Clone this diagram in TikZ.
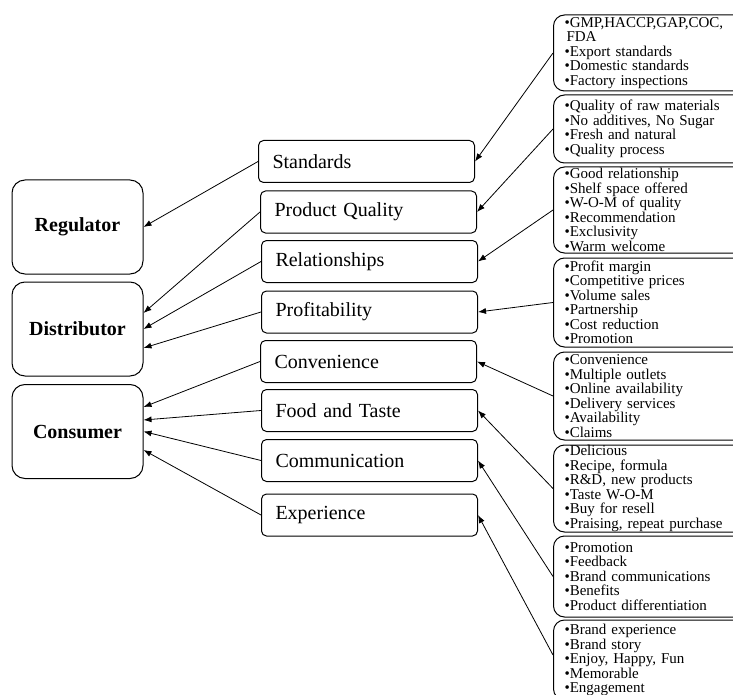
\documentclass[tikz,border=0pt]{standalone}
\usepackage{fontspec}
\setmainfont{Liberation Serif}
\usetikzlibrary{arrows.meta}
\tikzset{
  leftbox/.style={draw,line width=1pt,rounded corners=13pt,minimum width=131pt,minimum height=94pt,
    font=\fontsize{20pt}{24pt}\selectfont\bfseries},
  midbox/.style={draw,line width=1pt,rounded corners=5pt,anchor=west,text width=188pt,inner xsep=14pt,
    align=left,minimum height=42pt,font=\fontsize{20pt}{24pt}\selectfont},
  listbox/.style={draw,line width=1pt,rounded corners=11pt,anchor=west,text width=180pt,inner xsep=11pt,
    inner ysep=0pt,align=left,font=\fontsize{15pt}{14.5pt}\selectfont},
}
\begin{document}
\begin{tikzpicture}[x=1pt,y=-1pt,>={Latex[length=8pt,width=6pt]},line width=0.8pt]
    \useasboundingbox (0,0) rectangle (733,695);
    % left column
    \node[leftbox] (reg) at (77.5,227) {Regulator};
    \node[leftbox] (dist) at (77.5,329) {Distributor};
    \node[leftbox] (cons) at (77.5,431.5) {Consumer};
    % middle column
    \node[midbox] (std) at (258,161.5) {Standards};
    \node[midbox] (pq) at (260,212) {Product Quality};
    \node[midbox] (rel) at (261,261.5) {Relationships};
    \node[midbox] (prof) at (261,312) {Profitability};
    \node[midbox] (conv) at (260,361.5) {Convenience};
    \node[midbox] (food) at (261,410.5) {Food and Taste};
    \node[midbox] (comm) at (261,460.5) {Communication};
    \node[midbox] (exp) at (261,515) {Experience};
    % right column
    \node[listbox,minimum height=76pt] (l1) at (553,53) {•GMP,HACCP,GAP,COC,\\\hspace*{2pt}FDA\\•Export standards\\•Domestic standards\\•Factory inspections};
    \node[listbox,minimum height=68pt] (l2) at (553,129) {•Quality of raw materials\\•No additives, No Sugar\\•Fresh and natural\\•Quality process};
    \node[listbox,minimum height=86pt] (l3) at (553,210) {•Good relationship\\•Shelf space offered\\•W-O-M of quality\\•Recommendation\\•Exclusivity\\•Warm welcome};
    \node[listbox,minimum height=89pt] (l4) at (553,302.5) {•Profit margin\\•Competitive prices\\•Volume sales\\•Partnership\\•Cost reduction\\•Promotion};
    \node[listbox,minimum height=88pt] (l5) at (553,396) {•Convenience\\•Multiple outlets\\•Online availability\\•Delivery services\\•Availability\\•Claims};
    \node[listbox,minimum height=87pt] (l6) at (553,488.5) {•Delicious\\•Recipe, formula\\•R\&D, new products\\•Taste W-O-M\\•Buy for resell\\•Praising, repeat purchase};
    \node[listbox,minimum height=81pt] (l7) at (553,576.5) {•Promotion\\•Feedback\\•Brand communications\\•Benefits\\•Product differentiation};
    \node[listbox,minimum height=80pt] (l8) at (553,660) {•Brand experience\\•Brand story\\•Enjoy, Happy, Fun\\•Memorable\\•Engagement};
    % lists to factors
    \draw[->] (l1.west) -- (std.east);
    \draw[->] (l2.west) -- (pq.east);
    \draw[->] (l3.west) -- (rel.east);
    \draw[->] (l4.west) -- (prof.east);
    \draw[->] (l5.west) -- (conv.east);
    \draw[->] (l6.west) -- (food.east);
    \draw[->] (l7.west) -- (comm.east);
    \draw[->] ([yshift=5pt]l8.west) -- (exp.east);
    % factors to actors
    \draw[->] (std.west) -- (reg.east);
    \draw[->] (pq.west) -- ([yshift=16pt]dist.east);
    \draw[->] (rel.west) -- (dist.east);
    \draw[->] (prof.west) -- ([yshift=-19pt]dist.east);
    \draw[->] (conv.west) -- ([yshift=24.5pt]cons.east);
    \draw[->] (food.west) -- ([yshift=11.5pt]cons.east);
    \draw[->] (comm.west) -- (cons.east);
    \draw[->] (exp.west) -- ([yshift=-18.5pt]cons.east);
\end{tikzpicture}
\end{document}
